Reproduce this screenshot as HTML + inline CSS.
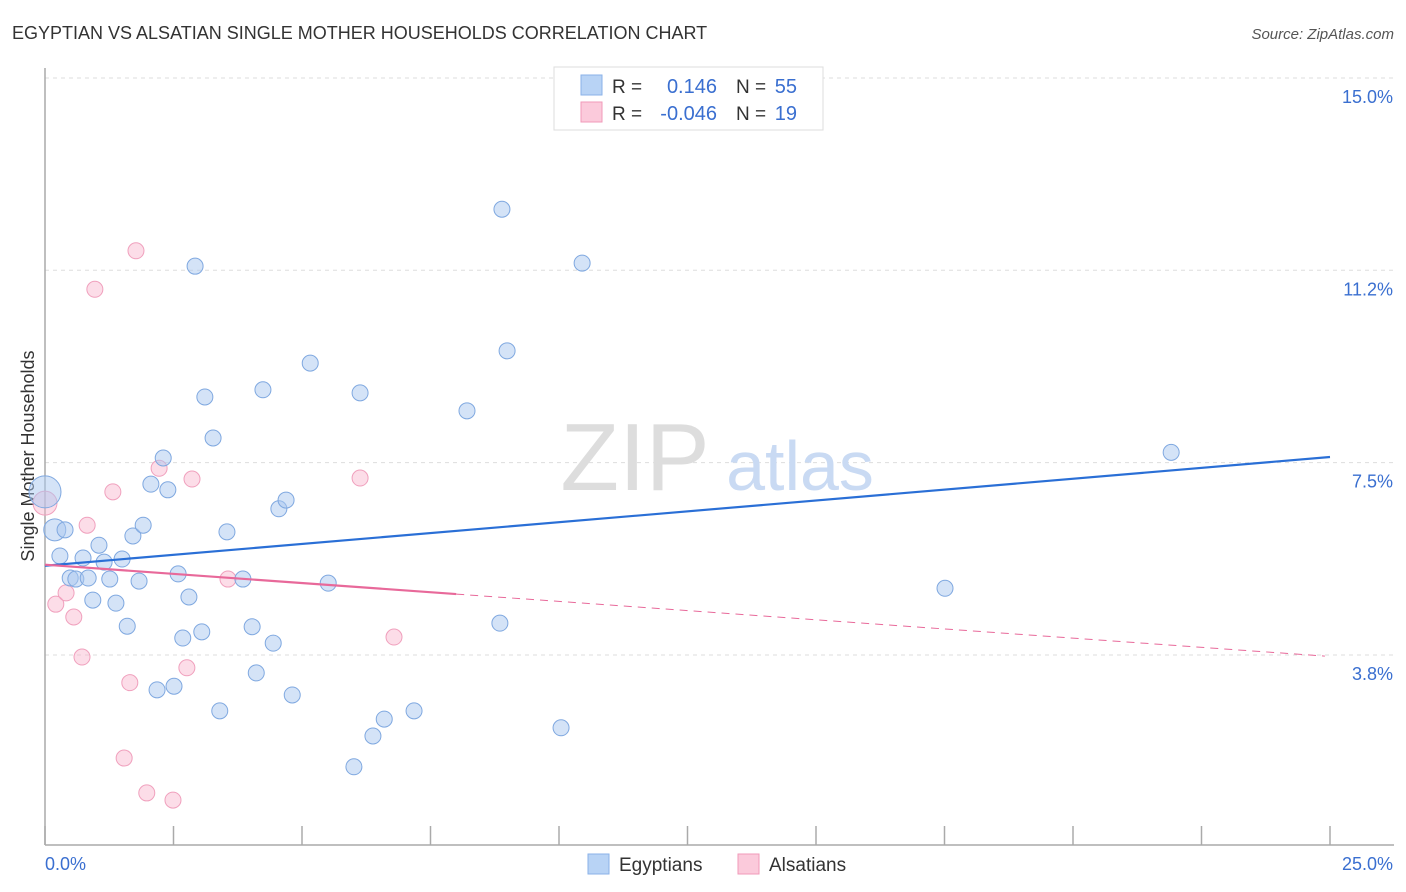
<!DOCTYPE html>
<html><head><meta charset="utf-8">
<style>
body{margin:0;background:#fff;font-family:"Liberation Sans",sans-serif;}
#wrap{position:relative;width:1406px;height:892px;overflow:hidden;}
svg text{font-family:"Liberation Sans",sans-serif;}
</style></head>
<body>
<div id="wrap">
<svg id="chart" width="1406" height="892">
<text x="12" y="39" font-size="18" fill="#333">EGYPTIAN VS ALSATIAN SINGLE MOTHER HOUSEHOLDS CORRELATION CHART</text>
<text x="1394" y="39" font-size="15" fill="#555" font-style="italic" text-anchor="end">Source: ZipAtlas.com</text>
<text x="34" y="456" font-size="18" fill="#333" text-anchor="middle" transform="rotate(-90 34 456)">Single Mother Households</text>
<g id="grid"></g>
<g>
<text x="635" y="490" font-size="96" fill="#ddd" font-family="Liberation Serif" text-anchor="middle">ZIP</text>
<text x="800" y="490" font-size="70" fill="#c9daf3" text-anchor="middle">atlas</text>
</g>
<g id="axes"></g>
<g id="marks"></g>
<g>
<rect x="554" y="67" width="269" height="63" fill="#fff" stroke="#ddd"/>
<rect x="581" y="75" width="21" height="20" fill="#b8d3f5" stroke="#8ab2e8"/>
<rect x="581" y="102" width="21" height="20" fill="#fbcadb" stroke="#f09ab8"/>
<text x="612" y="93" font-size="19" fill="#333">R =</text>
<text x="717" y="93" font-size="20" fill="#3a6fd0" text-anchor="end">0.146</text>
<text x="736" y="93" font-size="19" fill="#333">N =</text>
<text x="797" y="93" font-size="20" fill="#3a6fd0" text-anchor="end">55</text>
<text x="612" y="120" font-size="19" fill="#333">R =</text>
<text x="717" y="120" font-size="20" fill="#3a6fd0" text-anchor="end">-0.046</text>
<text x="736" y="120" font-size="19" fill="#333">N =</text>
<text x="797" y="120" font-size="20" fill="#3a6fd0" text-anchor="end">19</text>
</g>
<g>
<rect x="588" y="854" width="21" height="20" fill="#b8d3f5" stroke="#8ab2e8"/>
<text x="619" y="871" font-size="19" fill="#333">Egyptians</text>
<rect x="738" y="854" width="21" height="20" fill="#fbcadb" stroke="#f09ab8"/>
<text x="769" y="871" font-size="19" fill="#333">Alsatians</text>
</g>
</svg>
</div>
<script>
const yTicks=[15,11.25,7.5,3.75];
const yTickLabels=["15.0%","11.2%","7.5%","3.8%"];
const xTicks=[0,2.5,5,7.5,10,12.5,15,17.5,20,22.5,25];
const xTickLabels=["0.0%","25.0%"];
const egyX=[0,0.19,0.39,0.29,0.49,0.60,0.74,0.84,0.93,1.05,1.15,1.26,1.38,1.50,1.60,1.71,1.83,1.91,2.06,2.18,2.30,2.39,2.51,2.59,2.68,2.80,2.92,3.05,3.11,3.27,3.40,3.54,3.85,4.03,4.11,4.24,4.44,4.55,4.69,4.81,5.16,5.51,6.01,6.13,6.38,6.60,7.18,8.21,8.85,8.89,8.99,10.04,10.45,17.51,21.91];
const egyY=[6.93,6.19,6.19,5.68,5.25,5.23,5.64,5.25,4.82,5.89,5.56,5.23,4.76,5.62,4.31,6.07,5.19,6.28,7.08,3.07,7.59,6.97,3.14,5.33,4.08,4.88,11.33,4.20,8.78,7.98,2.66,6.15,5.23,4.30,3.40,8.92,3.98,6.60,6.77,2.97,9.44,5.15,1.57,8.86,2.17,2.50,2.66,8.51,4.37,12.44,9.68,2.33,11.39,5.05,7.70];
const alsX=[0,0.21,0.41,0.56,0.72,0.82,0.97,1.32,1.54,1.65,1.77,1.98,2.22,2.49,2.76,2.86,3.56,6.13,6.79];
const alsY=[6.71,4.74,4.96,4.49,3.71,6.28,10.88,6.93,1.74,3.21,11.63,1.06,7.39,0.92,3.50,7.18,5.23,7.20,4.10];
const egyTrend=[5.49,7.61];
const alsTrend=[5.51,3.72];
const alsSolidEnd=8.0;

const NS="http://www.w3.org/2000/svg";
const xs=v=>45+v*51.4;
const ys=v=>847.3-v*51.29;
function mk(tag,attrs,parent){const e=document.createElementNS(NS,tag);for(const k in attrs)e.setAttribute(k,attrs[k]);parent.appendChild(e);return e;}
const grid=document.getElementById('grid'),axes=document.getElementById('axes'),marks=document.getElementById('marks');
yTicks.forEach((t,i)=>{
 const l=mk('line',{x1:45,x2:1394,y1:ys(t),y2:ys(t),stroke:'#ddd','stroke-dasharray':'4,4'},grid);
 
 
 const tx=mk('text',{x:1393,y:ys(t)+25,'font-size':18,fill:'#3a6fd0','text-anchor':'end'},grid);
 tx.textContent=yTickLabels[i];
 
 
});
let a=mk('line',{x1:45,x2:45,y1:68,y2:845,stroke:'#aaa','stroke-width':1.5},axes);


a=mk('line',{x1:45,x2:1394,y1:845,y2:845,stroke:'#aaa','stroke-width':1.5},axes);


xTicks.forEach(t=>{
 const l=mk('line',{x1:xs(t),x2:xs(t),y1:826,y2:845,stroke:'#aaa','stroke-width':1.5},axes);
 
 
});
let tl=mk('text',{x:45,y:870,'font-size':18,fill:'#3a6fd0'},axes);tl.textContent=xTickLabels[0];


tl=mk('text',{x:1393,y:870,'font-size':18,fill:'#3a6fd0','text-anchor':'end'},axes);tl.textContent=xTickLabels[1];



alsX.forEach((x,i)=>{
 const c=mk('circle',{cx:xs(x),cy:ys(alsY[i]),r:i===0?12:8,fill:'rgba(248,180,204,0.45)',stroke:'#f0a0bd','stroke-width':1},marks);
 
 
});
egyX.forEach((x,i)=>{
 const c=mk('circle',{cx:xs(x),cy:ys(egyY[i]),r:i===0?16:(i===1?11:8),fill:'rgba(170,200,240,0.5)',stroke:'#7fa8e0','stroke-width':1},marks);
 
 
});
let t=mk('line',{x1:xs(0),y1:ys(egyTrend[0]),x2:xs(25),y2:ys(egyTrend[1]),stroke:'#2a6fd6','stroke-width':2.2},marks);


const aAt=x=>alsTrend[0]+(alsTrend[1]-alsTrend[0])*x/25;
t=mk('line',{x1:xs(0),y1:ys(alsTrend[0]),x2:xs(alsSolidEnd),y2:ys(aAt(alsSolidEnd)),stroke:'#e8699a','stroke-width':2.2},marks);


t=mk('line',{x1:xs(alsSolidEnd),y1:ys(aAt(alsSolidEnd)),x2:xs(24.9),y2:ys(aAt(24.9)),stroke:'#e8699a','stroke-width':1,'stroke-dasharray':'8,6'},marks);


</script>
</body></html>
